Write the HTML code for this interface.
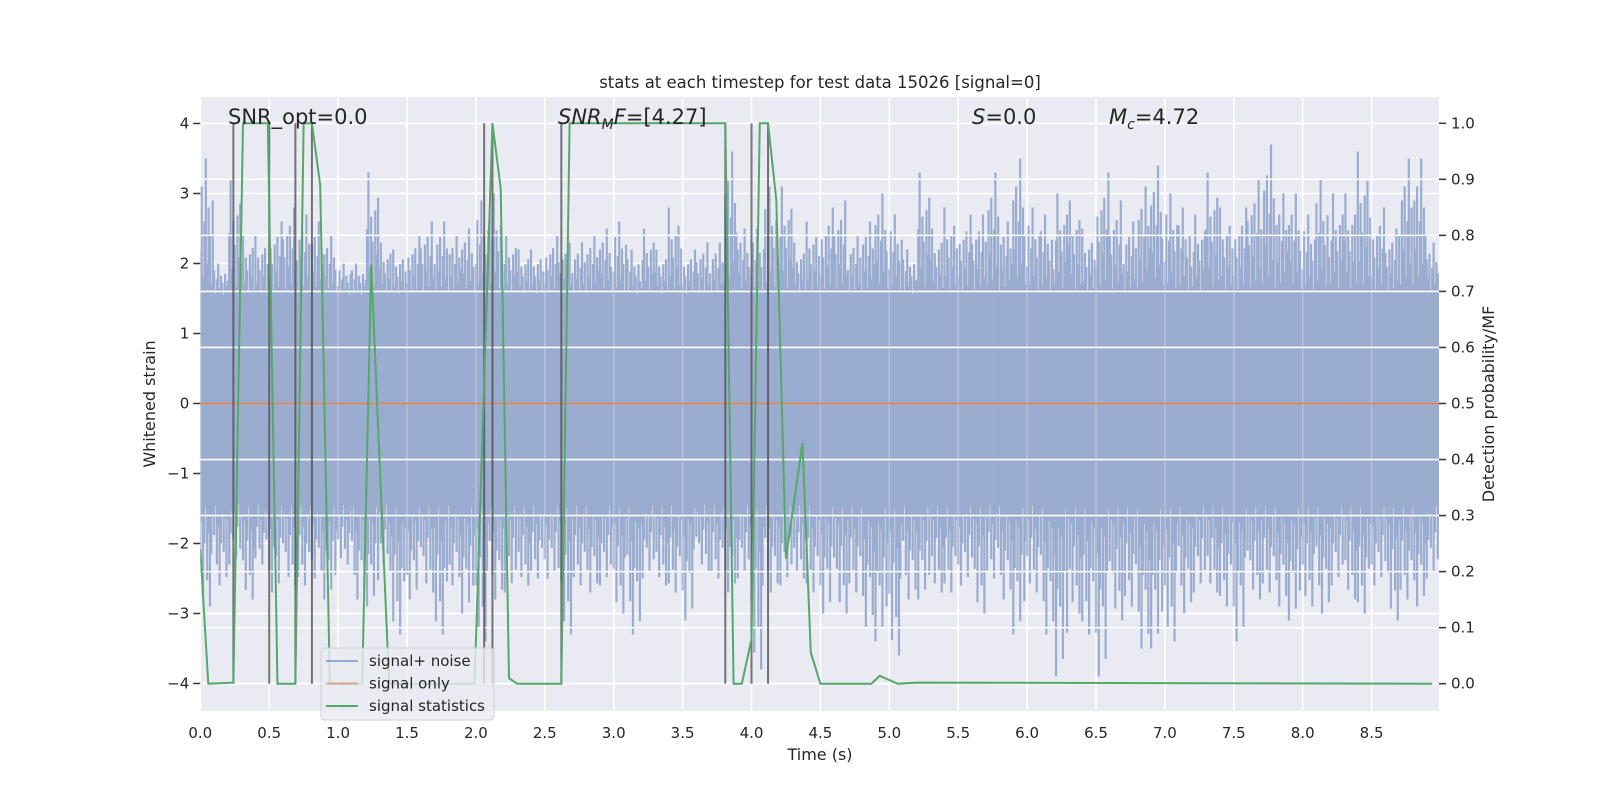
<!DOCTYPE html>
<html><head><meta charset="utf-8"><style>
html,body{margin:0;padding:0;background:#fff;width:1600px;height:800px;overflow:hidden}
svg text{font-family:"DejaVu Sans","Liberation Sans",sans-serif;fill:#262626}
</style></head><body>
<svg id="chart" width="1600" height="800" xmlns="http://www.w3.org/2000/svg"></svg>
<script>
// ---- data ----
const binStart = 0.0, binWidth = 0.1;
const noiseUpper = [3.5,2.0,3.2,2.4,2.4,2.6,2.8,2.7,2.6,2.4,2.0,2.0,3.3,2.3,2.2,2.4,2.6,2.6,2.4,2.5,2.9,3.0,2.4,2.2,2.2,2.4,2.3,2.3,2.4,2.5,2.6,2.2,2.5,2.2,2.8,2.2,2.3,2.3,3.6,2.5,2.5,3.1,3.1,2.3,2.6,2.8,2.9,2.4,2.6,3.0,2.7,2.2,3.3,2.5,2.8,2.7,2.7,3.3,2.6,3.5,2.8,2.7,3.0,2.9,2.5,3.3,2.9,2.6,3.1,3.4,3.0,2.8,2.7,3.3,2.8,2.8,3.2,3.7,3.0,3.0,2.7,3.2,3.0,3.0,3.6,2.8,2.5,3.5,3.5,2.3];
const noiseLower = [-2.9,-2.6,-2.3,-2.8,-2.3,-2.7,-2.6,-2.6,-2.5,-2.8,-2.3,-2.8,-2.9,-2.4,-3.3,-2.8,-2.7,-3.3,-2.6,-3.0,-3.4,-2.8,-2.7,-2.6,-2.5,-2.5,-3.3,-2.6,-2.7,-2.6,-3.0,-3.3,-2.5,-2.6,-2.7,-3.1,-2.4,-2.5,-2.7,-2.5,-3.8,-2.7,-2.6,-2.5,-2.7,-3.0,-3.0,-2.7,-3.2,-3.4,-3.6,-2.8,-2.8,-2.7,-2.7,-2.6,-3.0,-2.5,-2.8,-3.3,-2.7,-3.3,-3.9,-3.0,-3.3,-3.9,-3.1,-2.9,-3.5,-3.5,-3.4,-3.0,-2.7,-2.7,-2.9,-3.4,-2.8,-2.7,-2.9,-3.1,-2.9,-3.0,-2.6,-2.8,-3.0,-2.6,-3.1,-2.8,-2.9,-2.5];
const statTimes = [0.0,0.058,0.24,0.31,0.49,0.56,0.69,0.75,0.81,0.87,0.94,1.175,1.24,1.37,1.99,2.12,2.18,2.24,2.30,2.62,2.68,3.81,3.87,3.93,4.0,4.06,4.12,4.18,4.25,4.37,4.43,4.50,4.87,4.93,5.06,5.2,8.94];
const statValues = [0.24,0.0,0.002,1.0,1.0,0.0,0.0,1.0,1.0,0.89,0.0,0.0,0.748,0.0,0.0,1.0,0.884,0.01,0.0,0.0,1.0,1.0,0.0,0.0,0.08,1.0,1.0,0.863,0.223,0.43,0.056,0.0,0.0,0.014,0.0,0.002,0.0];
const triggerTimes = [0.24,0.50,0.69,0.81,2.06,2.12,2.62,3.81,4.0,4.12];
const xTicks = [0,0.5,1,1.5,2,2.5,3,3.5,4,4.5,5,5.5,6,6.5,7,7.5,8,8.5];
const yTicks = [-4,-3,-2,-1,0,1,2,3,4];
const pTicks = [0,0.1,0.2,0.3,0.4,0.5,0.6,0.7,0.8,0.9,1.0];

// ---- layout ----
const L=200.3,R=1439,T=97,B=711;
const X=t=>L+(t-0)*137.8;
const Y=v=>403.5-v*70;
const P=p=>683.7-p*560.4;
const NS="http://www.w3.org/2000/svg";
const svg=document.getElementById('chart');
function mk(tag,attrs,parent){const e=document.createElementNS(NS,tag);for(const k in attrs)e.setAttribute(k,attrs[k]);(parent||svg).appendChild(e);return e;}

const bg=mk('rect',{x:L,y:T,width:R-L,height:B-T,fill:'#eaeaf2'});



const grid=mk('g',{stroke:'#fff','stroke-width':1.6});


xTicks.forEach(t=>mk('line',{x1:X(t),x2:X(t),y1:T,y2:B},grid));
yTicks.forEach(v=>mk('line',{x1:L,x2:R,y1:Y(v),y2:Y(v)},grid));

const defs=mk('defs',{});
const cp=mk('clipPath',{id:'clip'},defs);
mk('rect',{x:L,y:T,width:R-L,height:B-T},cp);

// noise
const noise=mk('g',{'clip-path':'url(#clip)',stroke:'#9aaccf','stroke-width':2.2,fill:'none'});


mk('rect',{x:L,y:Y(1.55),width:R-L,height:Y(-1.45)-Y(1.55),fill:'#9aaccf',stroke:'none'},noise);
const fracs=[0.35,0.8,0.15,0.55,1.0,0.25,0.65,0.45,0.1,0.7];
const fracs2=[0.6,0.2,0.9,0.4,0.05,0.75,0.3,1.0,0.5,0.15];
noiseUpper.forEach((u,i)=>{
  const t0=binStart+i*binWidth;
  const lo=noiseLower[i];
  for(let k=0;k<10;k++){
    const t=t0+k*binWidth/10;
    const up=1.5+(u-1.5)*fracs[(k+i)%10];
    const dn=-1.4+(lo+1.4)*fracs2[(k+i*3)%10];
    mk('line',{x1:X(t),x2:X(t),y1:Y(up),y2:Y(dn)},noise);
  }
});

// twin-axis grid (drawn on top of noise)
const grid2=mk('g',{stroke:'#fff','stroke-width':1.6});


pTicks.forEach(p=>mk('line',{x1:L,x2:R,y1:P(p),y2:P(p)},grid2));
xTicks.forEach(t=>mk('line',{x1:X(t),x2:X(t),y1:T,y2:B,'stroke-opacity':0.25},grid2));

const so=mk('line',{x1:L,x2:R,y1:Y(0),y2:Y(0),stroke:'#dd8452','stroke-width':1.8});



const trig=mk('g',{stroke:'#4a4a4a','stroke-opacity':0.75,'stroke-width':2});


triggerTimes.forEach(t=>mk('line',{x1:X(t),x2:X(t),y1:P(1),y2:P(0)},trig));

const sl=mk('polyline',{points:statTimes.map((t,i)=>X(t)+','+P(statValues[i])).join(' '),fill:'none',stroke:'#55a868','stroke-width':2,'clip-path':'url(#clip)'});



const ax=mk('g',{'font-size':15});


xTicks.forEach(t=>{const e=mk('text',{x:X(t),y:738,'text-anchor':'middle'},ax);e.textContent=t.toFixed(1);});
yTicks.forEach(v=>{mk('line',{x1:L-7,x2:L,y1:Y(v),y2:Y(v),stroke:'#333','stroke-width':1.5},ax);const e=mk('text',{x:L-11,y:Y(v)+5,'text-anchor':'end'},ax);e.textContent=(v<0?'\u2212'+(-v):v);});
pTicks.forEach(p=>{mk('line',{x1:R,x2:R+7,y1:P(p),y2:P(p),stroke:'#333','stroke-width':1.5},ax);const e=mk('text',{x:R+12,y:P(p)+5},ax);e.textContent=p.toFixed(1);});

function txt(s,attrs,name){const e=mk('text',attrs);e.textContent=s;return e;}
txt('Time (s)',{x:820,y:760,'text-anchor':'middle','font-size':16},'x-axis-title');
txt('Whitened strain',{x:155,y:404,'text-anchor':'middle','font-size':16,transform:'rotate(-90 155 404)'},'y-axis-title');
txt('Detection probability/MF',{x:1494,y:404,'text-anchor':'middle','font-size':16,transform:'rotate(-90 1494 404)'},'right-axis-title');
txt('stats at each timestep for test data 15026 [signal=0]',{x:820,y:88,'text-anchor':'middle','font-size':16.5},'chart-title');
txt('SNR_opt=0.0',{x:228,y:124,'font-size':21},'snr-opt-annotation');
const m=mk('text',{x:558,y:124,'font-size':21});


m.innerHTML='<tspan font-style="italic">SNR</tspan><tspan font-style="italic" font-size="14" dy="5">M</tspan><tspan font-style="italic" dy="-5">F</tspan>=[4.27]';
const s=mk('text',{x:972,y:124,'font-size':21});


s.innerHTML='<tspan font-style="italic">S</tspan>=0.0';
const mc=mk('text',{x:1109,y:124,'font-size':21});


mc.innerHTML='<tspan font-style="italic">M</tspan><tspan font-style="italic" font-size="14" dy="5">c</tspan><tspan dy="-5">=4.72</tspan>';

const lg=mk('g',{});


mk('rect',{x:321,y:648,width:173,height:72,rx:4,fill:'#eaeaf2','fill-opacity':0.8,stroke:'#d0d0d8'},lg);
[['signal+ noise','#4c72b0',0.55],['signal only','#dd8452',0.6],['signal statistics','#55a868',1]].forEach((d,i)=>{
  const yy=661+i*22.5;
  const ln=mk('line',{x1:326,x2:358,y1:yy,y2:yy,stroke:d[1],'stroke-opacity':d[2],'stroke-width':2},lg);
  
  
  const t=mk('text',{x:369,y:yy+5,'font-size':15},lg);
  t.textContent=d[0];
  
  
});
</script>
</body></html>
